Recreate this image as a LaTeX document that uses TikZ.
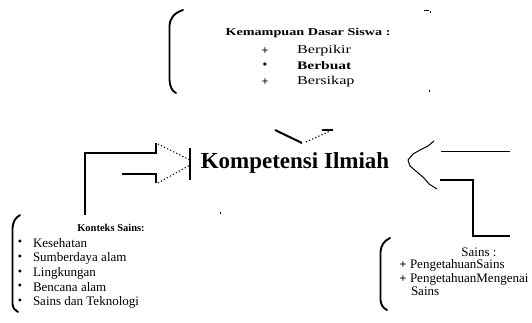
\documentclass[tikz,border=0pt]{standalone}
\usepackage{fontspec}
\setmainfont{Liberation Serif}
\newfontfamily\widefont[FakeStretch=1.35]{Liberation Serif}
\begin{document}
\begin{tikzpicture}[x=1pt,y=-1pt,
  heavy/.style={line width=2pt},
  bar/.style={line width=2.8pt},
  thin/.style={line width=1pt},
  dotted link/.style={line width=1.1pt,dash pattern=on 1.2pt off 2.2pt},
  bracket/.style={line width=1.9pt,line cap=round},
  txt/.style={inner sep=0pt,outer sep=0pt},
  topitem/.style={txt,anchor=west,font=\widefont\fontsize{12}{14}\selectfont},
  listitem/.style={txt,anchor=west,font=\fontsize{13}{15}\selectfont},
  bulletmark/.style={txt,font=\fontsize{12}{14}\selectfont}]
\useasboundingbox[fill=white] (0,0) rectangle (532,322);

% ---- upper group: Kemampuan Dasar Siswa ----
\draw[bracket] (183,10) .. controls (174,13) and (170,18) .. (169.5,26)
  -- (169.5,80) .. controls (170,87) and (172,91) .. (176,93);
\draw[line width=1pt] (424,10.5) -- (429,10.5);
\fill (430,11) rectangle (431,13);
\fill (429,90) rectangle (430,92);
\node[txt,font=\widefont\bfseries\fontsize{10.5}{12}\selectfont] (kds) at (308,33) {Kemampuan Dasar Siswa :};
\node[bulletmark] (b1) at (265,51) {\textbf{+}};
\node[bulletmark] (b2) at (265,66) {\textbf{•}};
\node[bulletmark] (b3) at (265,82) {\textbf{+}};
\node[topitem] (berpikir) at (297,51) {Berpikir};
\node[topitem,font=\widefont\bfseries\fontsize{11.5}{13}\selectfont] (berbuat) at (297,66) {Berbuat};
\node[topitem] (bersikap) at (297,82) {Bersikap};

% arrow head pointing down towards the centre label
\coordinate (t1) at (275,130);
\coordinate (t2) at (302,143);
\coordinate (t3) at (306,142);
\coordinate (t4) at (330,131);
\coordinate (t5) at (322,130);
\coordinate (t6) at (333,130);
\draw[heavy] (t1) -- (t2);
\draw[dotted link] (t3) -- (t4);
\draw[heavy] (t5) -- (t6);

% ---- centre label ----
\node[txt,font=\bfseries\fontsize{23}{26}\selectfont] (ki) at (295,163) {Kompetensi Ilmiah};

% ---- left block arrow from Konteks Sains ----
\coordinate (l0) at (85,215);
\coordinate (l1) at (85,153);
\coordinate (l2) at (156,153);
\coordinate (l3) at (156,143);
\coordinate (l4) at (122,174);
\coordinate (l5) at (156,174);
\coordinate (l6) at (156,183);
\coordinate (tipA) at (158,144);
\coordinate (tipB) at (190,160);
\coordinate (tipC) at (158,183);
\coordinate (tipD) at (190,165);
\coordinate (barT) at (190,148);
\coordinate (barB) at (190,180);
\draw[heavy] (l0) -- (l1) -- (l2) -- (l3);
\draw[heavy] (l4) -- (l5) -- (l6);
\draw[dotted link] (tipA) -- (tipB);
\draw[dotted link] (tipC) -- (tipD);
\draw[bar] (barT) -- (barB);

% ---- right block arrow from Sains ----
\draw[thin,line join=round] (434,141) -- (428,146) -- (420,150) -- (413,154)
  -- (408,160) -- (410,166) -- (417,172) -- (424,178) -- (429,184) -- (437,189);
\coordinate (r1) at (441,151);
\coordinate (r2) at (510,151);
\coordinate (r3) at (440,180);
\coordinate (r4) at (473,180);
\coordinate (r5) at (473,236);
\coordinate (r6) at (510,236);
\draw[thin] (r1) -- (r2);
\draw[heavy] (r3) -- (r4) -- (r5) -- (r6);

% ---- lower left group: Konteks Sains ----
\draw[bracket] (20,215) .. controls (15,218) and (13,222) .. (12.5,228)
  -- (12.5,304) .. controls (13,308) and (15,311) .. (18,312);
\fill (219.5,212) rectangle (220.5,214);
\node[txt,font=\bfseries\fontsize{10.5}{12}\selectfont] (ks) at (111,228) {Konteks Sains:};
\foreach \y/\t/\n in {243/Kesehatan/k1, 258/Sumberdaya alam/k2, 273/Lingkungan/k3, 287/Bencana alam/k4, 302/Sains dan Teknologi/k5}{
  \node[bulletmark] (\n b) at (20,\y) {•};
  \node[listitem] (\n) at (33,\y) {\t};
}

% ---- lower right group: Sains ----
\draw[bracket] (390,238) .. controls (384,241) and (381,245) .. (380.5,252)
  -- (380.5,300) .. controls (381,305) and (383,308) .. (387,310);
\node[txt,font=\fontsize{13}{15}\selectfont] (sains) at (479,252) {Sains :};
\node[bulletmark] (s1b) at (403,265) {\textbf{+}};
\node[bulletmark] (s2b) at (403,279) {\textbf{+}};
\node[listitem] (s1) at (410,265) {PengetahuanSains};
\node[listitem] (s2) at (410,279) {PengetahuanMengenai};
\node[listitem] (s3) at (411,291) {Sains};
\end{tikzpicture}
\end{document}
